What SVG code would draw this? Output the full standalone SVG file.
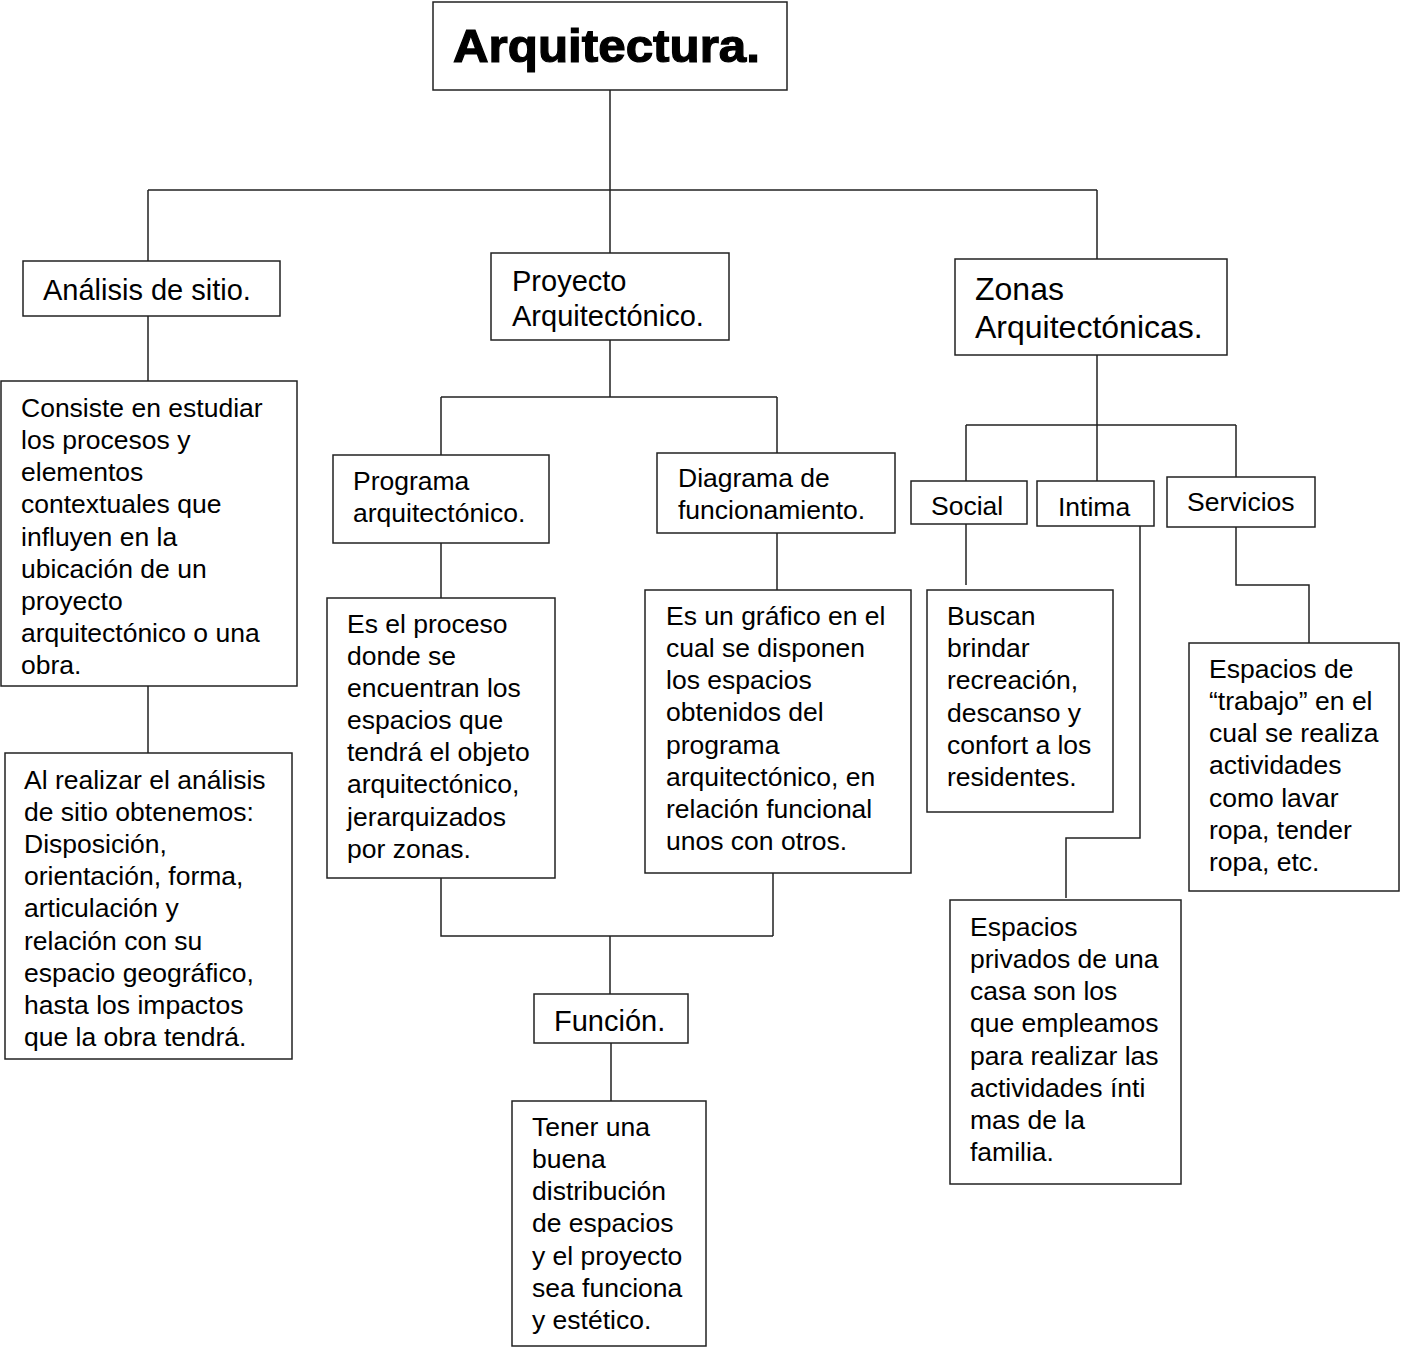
<svg xmlns="http://www.w3.org/2000/svg" width="1403" height="1353" viewBox="0 0 1403 1353">
<style>
.bg{fill:#fff}
.box{fill:#fff;stroke:#222;stroke-width:1.5}
.ln{fill:none;stroke:#222;stroke-width:1.5}
text{font-family:"Liberation Sans",Arial,sans-serif;fill:#000}
.b{font-size:26.5px}
.h{font-size:29px}
.z{font-size:32px}
.t{font-size:47px;font-weight:bold;stroke:#000;stroke-width:1.2}
</style>
<rect class="bg" x="0" y="0" width="1403" height="1353"/>
<g id="connectors">
<path class="ln" d="M610,90 V253 M148,190 H1097 M148,190 V261 M1097,190 V259"/>
<path class="ln" d="M148,316 V381 M148,686 V753"/>
<path class="ln" d="M610,340 V397 M441,397 H777 M441,397 V455 M777,397 V453"/>
<path class="ln" d="M441,543 V598 M777,533 V590"/>
<path class="ln" d="M441,878 V936 H773 M773,873 V936 M610,936 V994 M611,1043 V1101"/>
<path class="ln" d="M1097,355 V425 M966,425 H1236 M966,425 V481 M1097,425 V481 M1236,425 V477"/>
<path class="ln" d="M966,524 V585"/>
<path class="ln" d="M1140,526 V838 H1066 V898"/>
<path class="ln" d="M1236,527 V585 H1309 V643"/>
</g>
<g id="arquitectura">
<rect class="box" x="433" y="2" width="354" height="88"/>
<text class="t" x="453" y="62" textLength="307" lengthAdjust="spacingAndGlyphs">Arquitectura.</text>
</g>
<g id="analisis">
<rect class="box" x="23" y="261" width="257" height="55"/>
<text class="h" x="43" y="300">Análisis de sitio.</text>
</g>
<g id="proyecto">
<rect class="box" x="491" y="253" width="238" height="87"/>
<text class="h" x="512" y="291">Proyecto</text>
<text class="h" x="512" y="326">Arquitectónico.</text>
</g>
<g id="zonas">
<rect class="box" x="955" y="259" width="272" height="96"/>
<text class="z" x="975" y="300">Zonas</text>
<text class="z" x="975" y="338">Arquitectónicas.</text>
</g>
<g id="consiste">
<rect class="box" x="1" y="381" width="296" height="305"/>
<text class="b" x="21" y="417">Consiste en estudiar</text>
<text class="b" x="21" y="449">los procesos y</text>
<text class="b" x="21" y="481">elementos</text>
<text class="b" x="21" y="513">contextuales que</text>
<text class="b" x="21" y="546">influyen en la</text>
<text class="b" x="21" y="578">ubicación de un</text>
<text class="b" x="21" y="610">proyecto</text>
<text class="b" x="21" y="642">arquitectónico o una</text>
<text class="b" x="21" y="674">obra.</text>
</g>
<g id="al-realizar">
<rect class="box" x="5" y="753" width="287" height="306"/>
<text class="b" x="24" y="789">Al realizar el análisis</text>
<text class="b" x="24" y="821">de sitio obtenemos:</text>
<text class="b" x="24" y="853">Disposición,</text>
<text class="b" x="24" y="885">orientación, forma,</text>
<text class="b" x="24" y="917">articulación y</text>
<text class="b" x="24" y="950">relación con su</text>
<text class="b" x="24" y="982">espacio geográfico,</text>
<text class="b" x="24" y="1014">hasta los impactos</text>
<text class="b" x="24" y="1046">que la obra tendrá.</text>
</g>
<g id="programa">
<rect class="box" x="333" y="455" width="216" height="88"/>
<text class="b" x="353" y="490">Programa</text>
<text class="b" x="353" y="522">arquitectónico.</text>
</g>
<g id="diagrama">
<rect class="box" x="657" y="453" width="238" height="80"/>
<text class="b" x="678" y="487">Diagrama de</text>
<text class="b" x="678" y="519">funcionamiento.</text>
</g>
<g id="es-el-proceso">
<rect class="box" x="327" y="598" width="228" height="280"/>
<text class="b" x="347" y="633">Es el proceso</text>
<text class="b" x="347" y="665">donde se</text>
<text class="b" x="347" y="697">encuentran los</text>
<text class="b" x="347" y="729">espacios que</text>
<text class="b" x="347" y="761">tendrá el objeto</text>
<text class="b" x="347" y="793">arquitectónico,</text>
<text class="b" x="347" y="826">jerarquizados</text>
<text class="b" x="347" y="858">por zonas.</text>
</g>
<g id="es-un-grafico">
<rect class="box" x="645" y="590" width="266" height="283"/>
<text class="b" x="666" y="625">Es un gráfico en el</text>
<text class="b" x="666" y="657">cual se disponen</text>
<text class="b" x="666" y="689">los espacios</text>
<text class="b" x="666" y="721">obtenidos del</text>
<text class="b" x="666" y="754">programa</text>
<text class="b" x="666" y="786">arquitectónico, en</text>
<text class="b" x="666" y="818">relación funcional</text>
<text class="b" x="666" y="850">unos con otros.</text>
</g>
<g id="funcion">
<rect class="box" x="534" y="994" width="154" height="49"/>
<text class="h" x="554" y="1031">Función.</text>
</g>
<g id="tener">
<rect class="box" x="512" y="1101" width="194" height="245"/>
<text class="b" x="532" y="1136">Tener una</text>
<text class="b" x="532" y="1168">buena</text>
<text class="b" x="532" y="1200">distribución</text>
<text class="b" x="532" y="1232">de espacios</text>
<text class="b" x="532" y="1265">y el proyecto</text>
<text class="b" x="532" y="1297">sea funciona</text>
<text class="b" x="532" y="1329">y estético.</text>
</g>
<g id="social">
<rect class="box" x="911" y="481" width="116" height="43"/>
<text class="b" x="931" y="515">Social</text>
</g>
<g id="intima">
<rect class="box" x="1037" y="481" width="117" height="45"/>
<text class="b" x="1058" y="516">Intima</text>
</g>
<g id="servicios">
<rect class="box" x="1167" y="477" width="148" height="50"/>
<text class="b" x="1187" y="511">Servicios</text>
</g>
<g id="buscan">
<rect class="box" x="927" y="590" width="186" height="222"/>
<text class="b" x="947" y="625">Buscan</text>
<text class="b" x="947" y="657">brindar</text>
<text class="b" x="947" y="689">recreación,</text>
<text class="b" x="947" y="722">descanso y</text>
<text class="b" x="947" y="754">confort a los</text>
<text class="b" x="947" y="786">residentes.</text>
</g>
<g id="espacios-privados">
<rect class="box" x="950" y="900" width="231" height="284"/>
<text class="b" x="970" y="936">Espacios</text>
<text class="b" x="970" y="968">privados de una</text>
<text class="b" x="970" y="1000">casa son los</text>
<text class="b" x="970" y="1032">que empleamos</text>
<text class="b" x="970" y="1065">para realizar las</text>
<text class="b" x="970" y="1097">actividades ínti</text>
<text class="b" x="970" y="1129">mas de la</text>
<text class="b" x="970" y="1161">familia.</text>
</g>
<g id="espacios-trabajo">
<rect class="box" x="1189" y="643" width="210" height="248"/>
<text class="b" x="1209" y="678">Espacios de</text>
<text class="b" x="1209" y="710">“trabajo” en el</text>
<text class="b" x="1209" y="742">cual se realiza</text>
<text class="b" x="1209" y="774">actividades</text>
<text class="b" x="1209" y="807">como lavar</text>
<text class="b" x="1209" y="839">ropa, tender</text>
<text class="b" x="1209" y="871">ropa, etc.</text>
</g>
</svg>
